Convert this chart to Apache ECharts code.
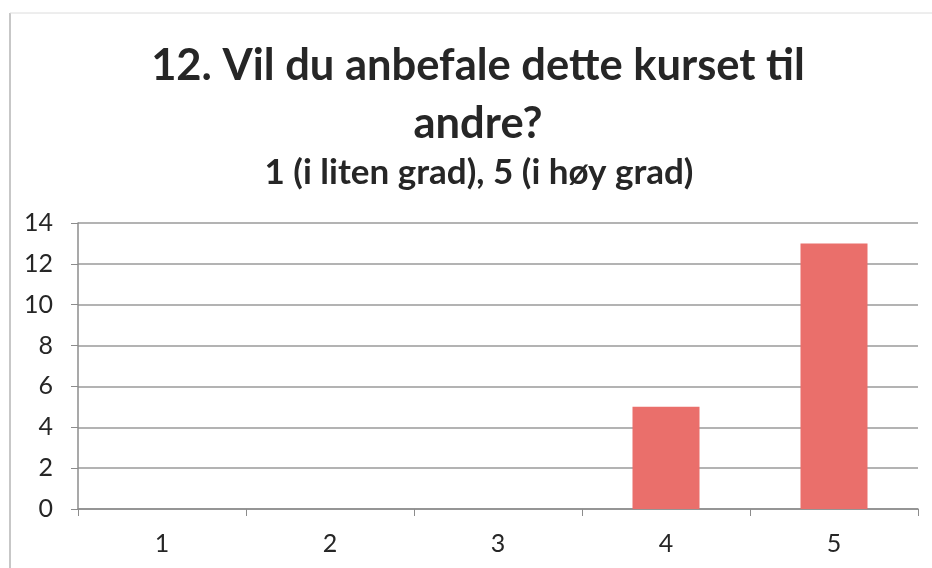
<!DOCTYPE html>
<html>
<head>
<meta charset="utf-8">
<script src="https://cdn.jsdelivr.net/npm/echarts@6/dist/echarts.min.js"></script>
<style>
  html, body { margin: 0; padding: 0; background: #fff; }
  #main { width: 932px; height: 568px; }
</style>
</head>
<body>
<div id="main"></div>
<script>
var categories = ['1', '2', '3', '4', '5']
var answers = [0, 0, 0, 5, 13]
var yTicks = { min: 0, max: 14, interval: 2 }

var chart = echarts.init(document.getElementById('main'))
var option = {
    backgroundColor: '#fff',
    textStyle: { fontFamily: 'Lato' },
    title: [
        {
            text: '12. Vil du anbefale dette kurset til\nandre?',
            left: 473,
            textAlign: 'center',
            top: 32,
            textStyle: { fontSize: 43.5, fontWeight: 'bold', color: '#262626', lineHeight: 58, fontFamily: 'Lato' }
        },
        {
            text: '1 (i liten grad), 5 (i høy grad)',
            left: 474,
            textAlign: 'center',
            top: 150,
            textStyle: { fontSize: 35, fontWeight: 'bold', color: '#262626', fontFamily: 'Lato' }
        }
    ],
    graphic: [
        { type: 'line', shape: { x1: 10, y1: 13, x2: 10, y2: 568 }, style: { stroke: '#b5b5b5', lineWidth: 1.5 } },
        { type: 'line', shape: { x1: 10, y1: 13, x2: 932, y2: 13 }, style: { stroke: '#dcdcdc', lineWidth: 1 } }
    ],
    grid: { left: 78, right: 14, top: 223, bottom: 59 },
    xAxis: {
        type: 'category',
        data: categories,
        axisLine: { lineStyle: { color: '#8c8c8c', width: 1.5 } },
        axisTick: { show: true, length: 7, lineStyle: { color: '#8c8c8c' } },
        axisLabel: { fontSize: 25, color: '#262626', margin: 22 }
    },
    yAxis: {
        type: 'value',
        min: yTicks.min,
        max: yTicks.max,
        interval: yTicks.interval,
        axisLine: { show: true, lineStyle: { color: '#8c8c8c', width: 1.5 } },
        axisTick: { show: true, length: 7, lineStyle: { color: '#8c8c8c' } },
        axisLabel: { fontSize: 25, color: '#262626', margin: 25 },
        splitLine: { lineStyle: { color: '#9a9a9a', width: 1.5 } }
    },
    series: [{
        type: 'bar',
        data: answers,
        barWidth: 67,
        itemStyle: { color: '#ea6f6b' }
    }]
}
chart.setOption(option)
</script>
</body>
</html>
